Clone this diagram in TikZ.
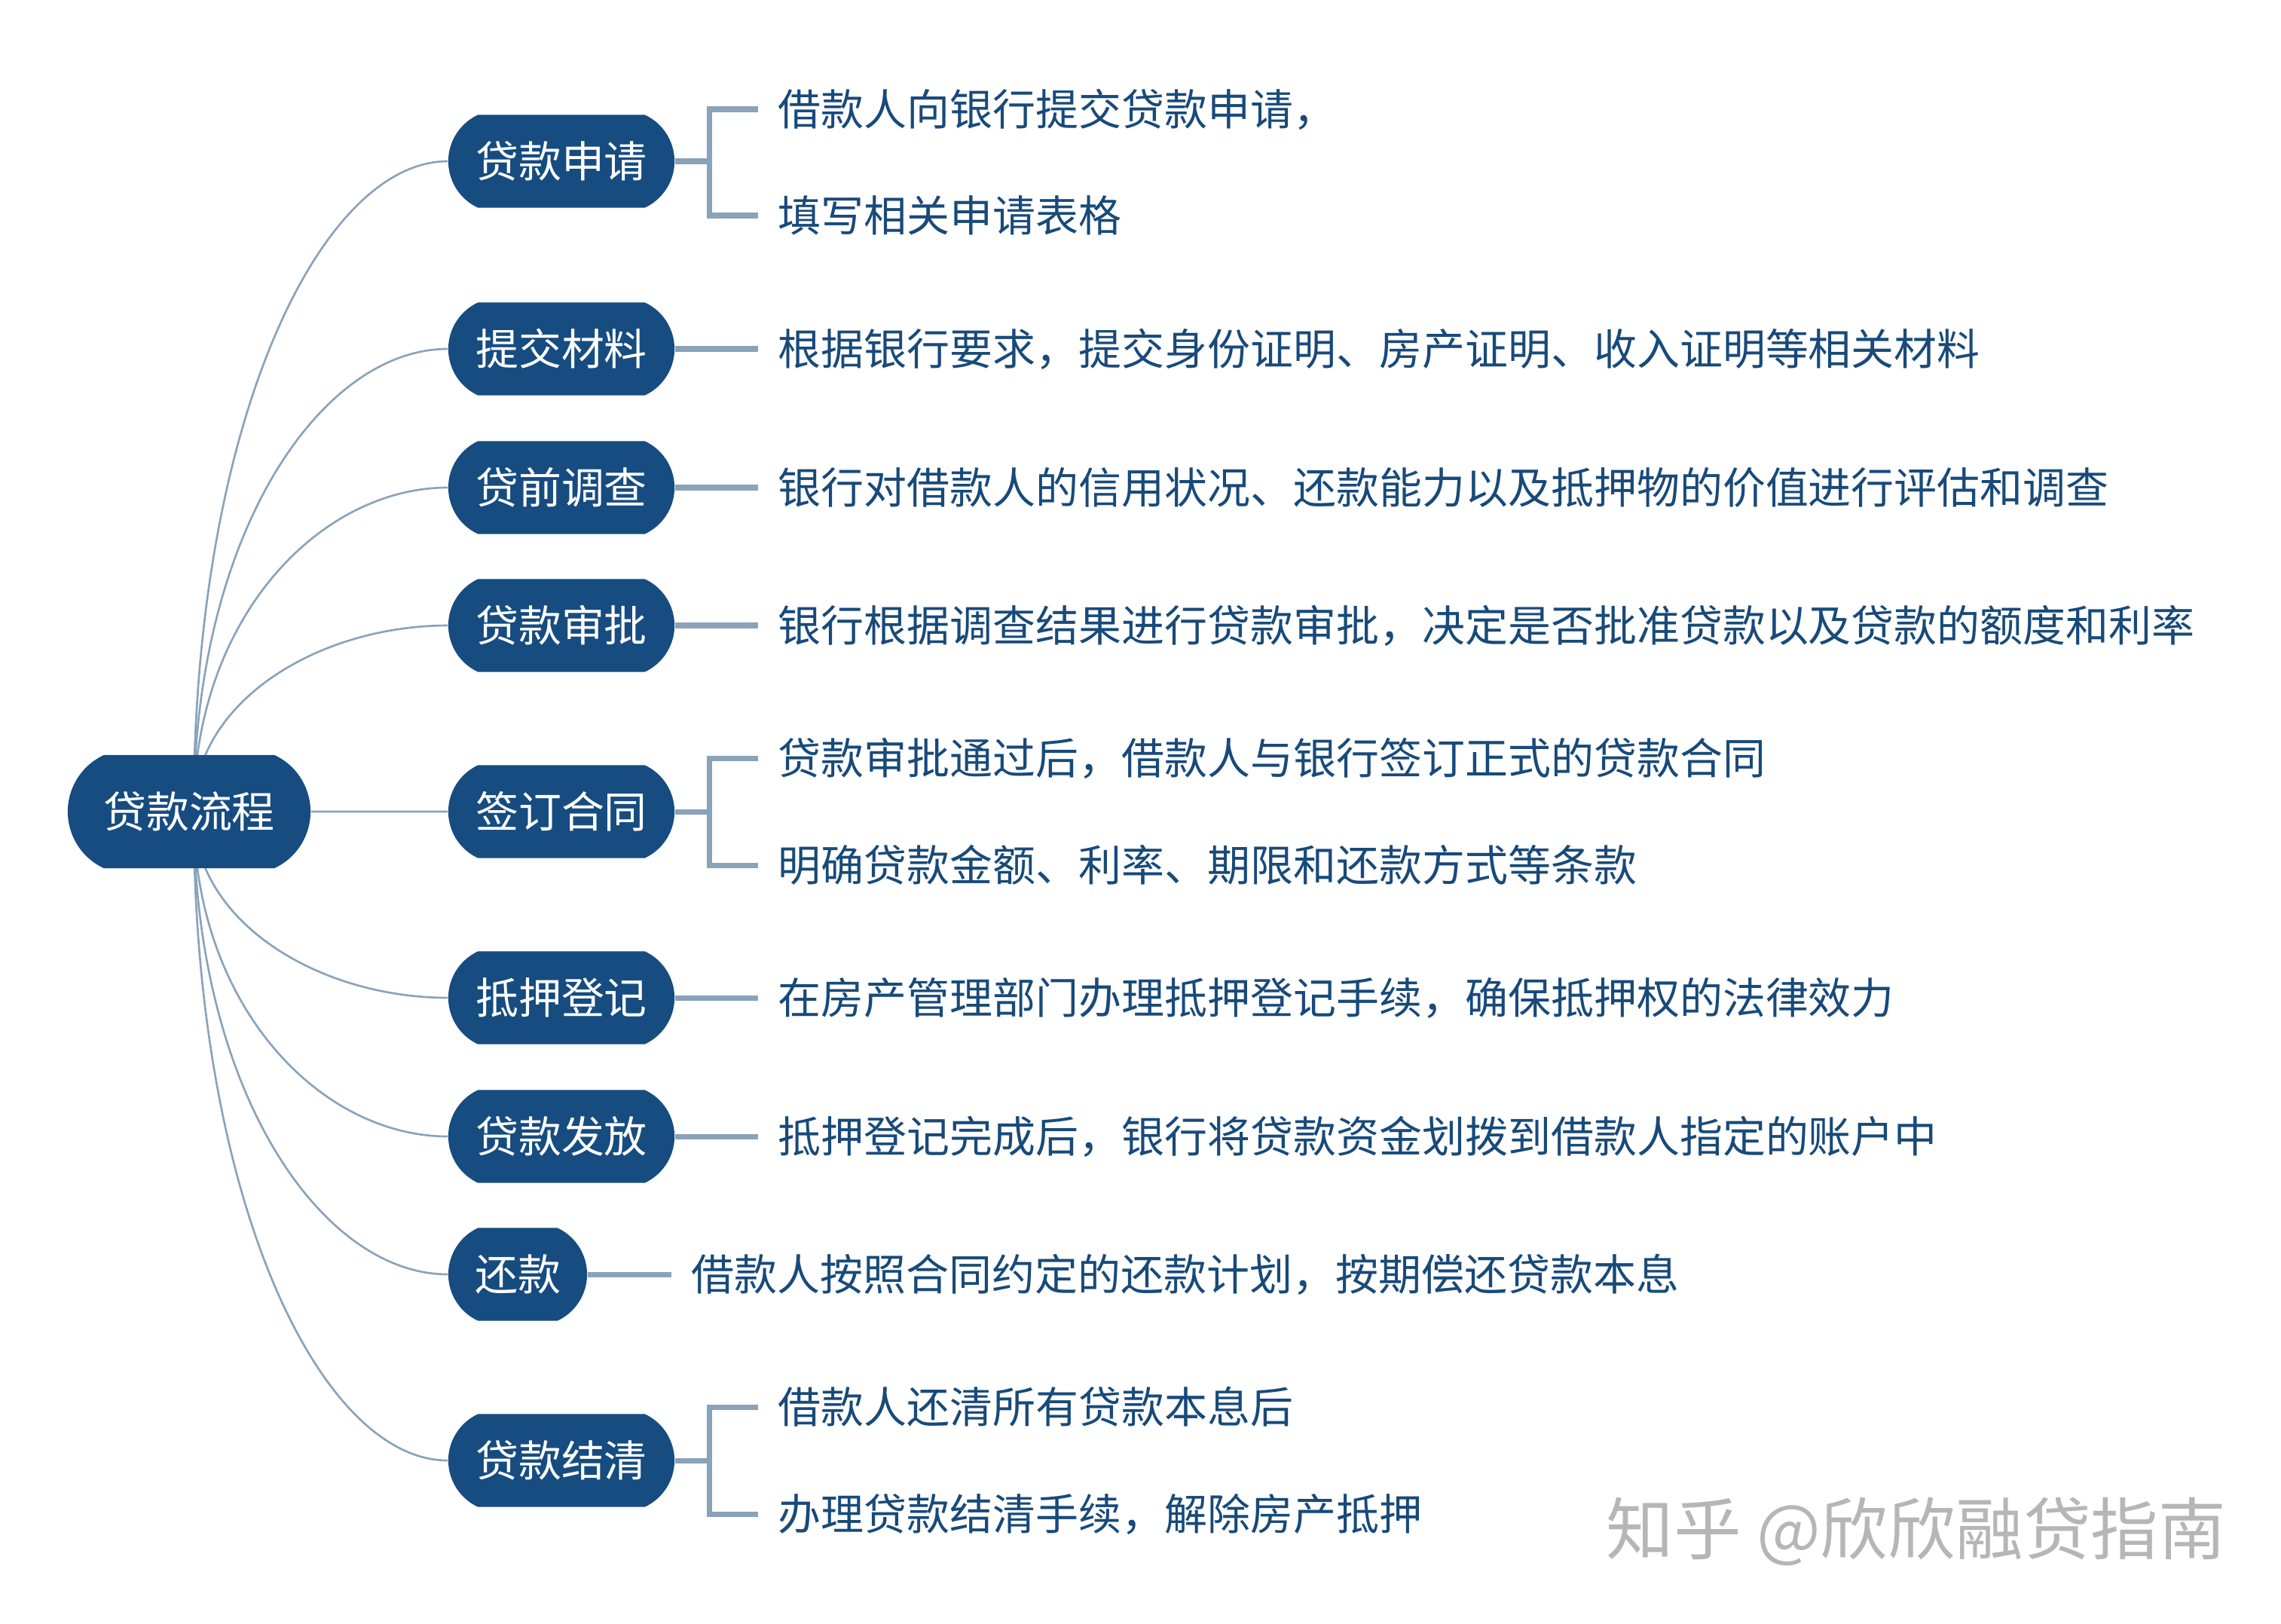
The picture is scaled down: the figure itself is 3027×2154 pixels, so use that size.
\documentclass[tikz,border=0pt]{standalone}
\usepackage{fontspec}
\setmainfont{Noto Sans CJK SC}
\usetikzlibrary{shapes.misc,backgrounds,calc}
\definecolor{nodeblue}{RGB}{22,76,128}
\definecolor{leafblue}{RGB}{24,74,122}
\definecolor{linegray}{RGB}{138,162,186}
\definecolor{wmgray}{RGB}{182,182,182}
\begin{document}
\begin{tikzpicture}[x=0.01cm,y=-0.01cm,
 every node/.style={font=\fontsize{16.2pt}{19pt}\selectfont},
 rootnode/.style={rounded rectangle, rounded rectangle arc length=130, fill=nodeblue, text=white, minimum width=3.22cm, minimum height=1.5cm, inner sep=0pt},
 branchnode/.style={rounded rectangle, rounded rectangle arc length=130, fill=nodeblue, text=white, minimum height=1.23cm, inner sep=0pt},
 wide/.style={minimum width=3cm},
 narrow/.style={minimum width=1.84cm},
 leaf/.style={anchor=west, text=leafblue, inner sep=0pt},
 curve/.style={draw=linegray, line width=0.75pt},
 link/.style={draw=linegray, line width=2pt}
]
\useasboundingbox (0,0) rectangle (3027,2154);

\node[rootnode] (root) at (251,1077) {贷款流程};
\coordinate (rs) at (257,1077);

\node[branchnode,wide] (b1) at (745,214) {贷款申请};
\node[branchnode,wide] (b2) at (745,463) {提交材料};
\node[branchnode,wide] (b3) at (745,647) {贷前调查};
\node[branchnode,wide] (b4) at (745,830) {贷款审批};
\node[branchnode,wide] (b5) at (745,1077) {签订合同};
\node[branchnode,wide] (b6) at (745,1324) {抵押登记};
\node[branchnode,wide] (b7) at (745,1508) {贷款发放};
\node[branchnode,narrow] (b8) at (687,1691) {还款};
\node[branchnode,wide] (b9) at (745,1938) {贷款结清};

\node[leaf] (l1a) at (1032,145) {借款人向银行提交贷款申请，};
\node[leaf] (l1b) at (1032,286) {填写相关申请表格};
\node[leaf] (l2) at (1032,463) {根据银行要求，提交身份证明、房产证明、收入证明等相关材料};
\node[leaf] (l3) at (1032,647) {银行对借款人的信用状况、还款能力以及抵押物的价值进行评估和调查};
\node[leaf] (l4) at (1032,830) {银行根据调查结果进行贷款审批，决定是否批准贷款以及贷款的额度和利率};
\node[leaf] (l5a) at (1032,1006) {贷款审批通过后，借款人与银行签订正式的贷款合同};
\node[leaf] (l5b) at (1032,1148) {明确贷款金额、利率、期限和还款方式等条款};
\node[leaf] (l6) at (1032,1324) {在房产管理部门办理抵押登记手续，确保抵押权的法律效力};
\node[leaf] (l7) at (1032,1508) {抵押登记完成后，银行将贷款资金划拨到借款人指定的账户中};
\node[leaf] (l8) at (917,1691) {借款人按照合同约定的还款计划，按期偿还贷款本息};
\node[leaf] (l9a) at (1032,1867) {借款人还清所有贷款本息后};
\node[leaf] (l9b) at (1032,2009) {办理贷款结清手续，解除房产抵押};

\node[anchor=west, text=wmgray, inner sep=0pt, font=\fontsize{25.5pt}{29pt}\selectfont] (wm) at (2131,2032) {知乎 @欣欣融贷指南};

\begin{pgfonlayer}{background}
\fill[white] (0,0) rectangle (3027,2154);
\foreach \b in {b1,b2,b3,b4,b6,b7,b8,b9} {
  \draw[curve] (rs) .. controls ($(rs)!0.6!(rs|-\b.west)$) and ($(\b.west)!0.5!(rs|-\b.west)$) .. (\b.west);
}
\draw[curve] (root) -- (b5);
\end{pgfonlayer}

\foreach \b/\l in {b2/l2,b3/l3,b4/l4,b6/l6,b7/l7,b8/l8} {
  \draw[link, shorten >=0.26cm] (\b.east) -- (\l.west);
}
\foreach \b/\la/\lb in {b1/l1a/l1b,b5/l5a/l5b,b9/l9a/l9b} {
  \draw[link] (\b.east) -- ([xshift=0.46cm]\b.east);
  \draw[link] ([xshift=-0.26cm]\la.west) -| ([xshift=0.46cm]\b.east) |- ([xshift=-0.26cm]\lb.west);
}
\end{tikzpicture}
\end{document}
